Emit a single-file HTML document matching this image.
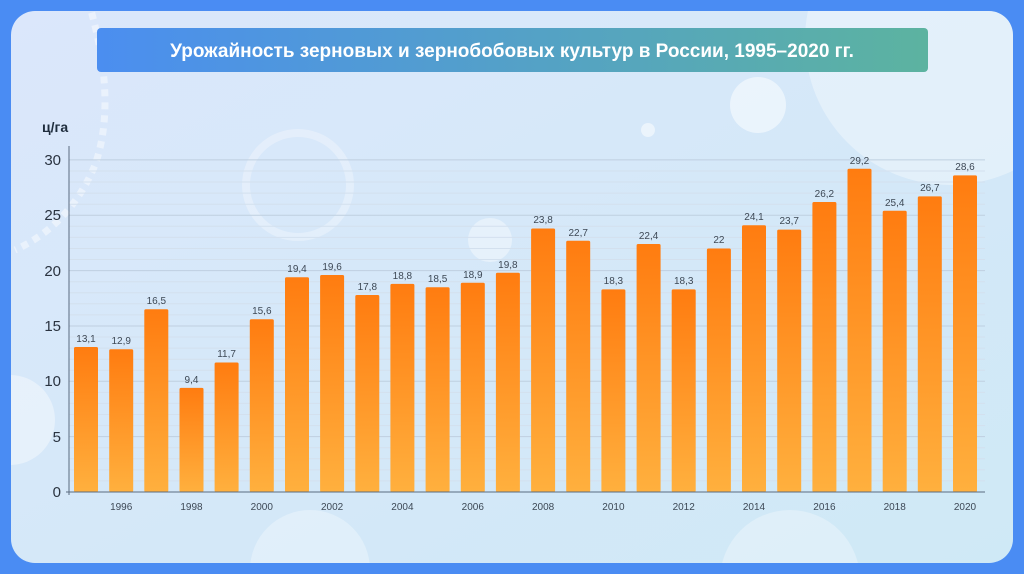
<!DOCTYPE html>
<html><head><meta charset="utf-8"><style>
html,body{margin:0;padding:0;width:1024px;height:574px;overflow:hidden;background:#4a8cf3;font-family:"Liberation Sans",sans-serif}
svg{display:block}
</style></head><body>
<svg width="1024" height="574" viewBox="0 0 1024 574" xmlns="http://www.w3.org/2000/svg" font-family="Liberation Sans, sans-serif">
<defs>
<linearGradient id="bg" x1="0" y1="0" x2="1" y2="1"><stop offset="0" stop-color="#dbe7fb"/><stop offset="1" stop-color="#cfe9f6"/></linearGradient>
<linearGradient id="tb" x1="0" y1="0" x2="1" y2="0"><stop offset="0" stop-color="#4b8ef0"/><stop offset="1" stop-color="#5cb3a0"/></linearGradient>
<linearGradient id="bar" x1="0" y1="0" x2="0" y2="1"><stop offset="0" stop-color="#ff7c10"/><stop offset="1" stop-color="#ffb03e"/></linearGradient>
<clipPath id="pc"><rect x="11" y="11" width="1002" height="552" rx="24"/></clipPath>
</defs>
<rect x="0" y="0" width="1024" height="574" fill="#4a8cf3"/>
<rect x="11" y="11" width="1002" height="552" rx="24" fill="url(#bg)"/>
<g clip-path="url(#pc)" fill="#ffffff">
<circle cx="950" cy="40" r="145" opacity="0.35"/>
<circle cx="758" cy="105" r="28" opacity="0.5"/>
<circle cx="648" cy="130" r="7" opacity="0.5"/>
<circle cx="490" cy="240" r="22" opacity="0.4"/>
<circle cx="298" cy="185" r="52" fill="none" stroke="#fff" stroke-width="8" opacity="0.3"/>
<circle cx="10" cy="420" r="45" opacity="0.4"/>
<circle cx="310" cy="570" r="60" opacity="0.3"/>
<circle cx="790" cy="580" r="70" opacity="0.3"/>
<path d="M88 0 Q118 100 95 165 Q70 225 15 250" fill="none" stroke="#fff" stroke-width="7" stroke-dasharray="7 6" opacity="0.45"/>
</g>
<rect x="97" y="28" width="831" height="44" rx="4" fill="url(#tb)"/>
<text x="512" y="57" text-anchor="middle" fill="#fff" font-size="19" font-weight="bold">Урожайность зерновых и зернобобовых культур в России, 1995–2020 гг.</text>
<text x="42" y="132" fill="#1f2d3d" font-size="14" font-weight="bold">ц/га</text>
<g stroke="#d3e0ee" stroke-width="1">
<line x1="69" x2="985" y1="480.9" y2="480.9"/><line x1="69" x2="985" y1="469.9" y2="469.9"/><line x1="69" x2="985" y1="458.8" y2="458.8"/><line x1="69" x2="985" y1="447.7" y2="447.7"/>
<line x1="69" x2="985" y1="425.6" y2="425.6"/><line x1="69" x2="985" y1="414.5" y2="414.5"/><line x1="69" x2="985" y1="403.4" y2="403.4"/><line x1="69" x2="985" y1="392.4" y2="392.4"/>
<line x1="69" x2="985" y1="370.2" y2="370.2"/><line x1="69" x2="985" y1="359.2" y2="359.2"/><line x1="69" x2="985" y1="348.1" y2="348.1"/><line x1="69" x2="985" y1="337.0" y2="337.0"/>
<line x1="69" x2="985" y1="314.9" y2="314.9"/><line x1="69" x2="985" y1="303.8" y2="303.8"/><line x1="69" x2="985" y1="292.7" y2="292.7"/><line x1="69" x2="985" y1="281.7" y2="281.7"/>
<line x1="69" x2="985" y1="259.5" y2="259.5"/><line x1="69" x2="985" y1="248.5" y2="248.5"/><line x1="69" x2="985" y1="237.4" y2="237.4"/><line x1="69" x2="985" y1="226.3" y2="226.3"/>
<line x1="69" x2="985" y1="204.2" y2="204.2"/><line x1="69" x2="985" y1="193.1" y2="193.1"/><line x1="69" x2="985" y1="182.0" y2="182.0"/><line x1="69" x2="985" y1="171.0" y2="171.0"/>
</g>
<g stroke="#bfcfe0" stroke-width="1">
<line x1="69" x2="985" y1="436.6" y2="436.6"/><line x1="69" x2="985" y1="381.3" y2="381.3"/><line x1="69" x2="985" y1="326.0" y2="326.0"/><line x1="69" x2="985" y1="270.6" y2="270.6"/><line x1="69" x2="985" y1="215.2" y2="215.2"/><line x1="69" x2="985" y1="159.9" y2="159.9"/>
</g>
<g fill="url(#bar)">
<rect x="74.0" y="347.0" width="24" height="145.0" rx="1.5"/>
<rect x="109.2" y="349.2" width="24" height="142.8" rx="1.5"/>
<rect x="144.3" y="309.3" width="24" height="182.7" rx="1.5"/>
<rect x="179.5" y="387.9" width="24" height="104.1" rx="1.5"/>
<rect x="214.6" y="362.5" width="24" height="129.5" rx="1.5"/>
<rect x="249.8" y="319.3" width="24" height="172.7" rx="1.5"/>
<rect x="285.0" y="277.2" width="24" height="214.8" rx="1.5"/>
<rect x="320.1" y="275.0" width="24" height="217.0" rx="1.5"/>
<rect x="355.3" y="295.0" width="24" height="197.0" rx="1.5"/>
<rect x="390.4" y="283.9" width="24" height="208.1" rx="1.5"/>
<rect x="425.6" y="287.2" width="24" height="204.8" rx="1.5"/>
<rect x="460.8" y="282.8" width="24" height="209.2" rx="1.5"/>
<rect x="495.9" y="272.8" width="24" height="219.2" rx="1.5"/>
<rect x="531.1" y="228.5" width="24" height="263.5" rx="1.5"/>
<rect x="566.2" y="240.7" width="24" height="251.3" rx="1.5"/>
<rect x="601.4" y="289.4" width="24" height="202.6" rx="1.5"/>
<rect x="636.6" y="244.0" width="24" height="248.0" rx="1.5"/>
<rect x="671.7" y="289.4" width="24" height="202.6" rx="1.5"/>
<rect x="706.9" y="248.5" width="24" height="243.5" rx="1.5"/>
<rect x="742.0" y="225.2" width="24" height="266.8" rx="1.5"/>
<rect x="777.2" y="229.6" width="24" height="262.4" rx="1.5"/>
<rect x="812.4" y="202.0" width="24" height="290.0" rx="1.5"/>
<rect x="847.5" y="168.8" width="24" height="323.2" rx="1.5"/>
<rect x="882.7" y="210.8" width="24" height="281.2" rx="1.5"/>
<rect x="917.8" y="196.4" width="24" height="295.6" rx="1.5"/>
<rect x="953.0" y="175.4" width="24" height="316.6" rx="1.5"/>
</g>
<line x1="69" y1="146" x2="69" y2="495" stroke="#5a6b80" stroke-width="1"/>
<line x1="66" y1="492" x2="985" y2="492" stroke="#5a6b80" stroke-width="1"/>
<g font-size="15" fill="#2a3340" text-anchor="end">
<text x="61" y="497">0</text><text x="61" y="442">5</text><text x="61" y="386">10</text><text x="61" y="331">15</text><text x="61" y="276">20</text><text x="61" y="220">25</text><text x="61" y="165">30</text>
</g>
<g font-size="10" fill="#3d4855" text-anchor="middle">
<text x="86.0" y="342">13,1</text>
<text x="121.2" y="344">12,9</text>
<text x="156.3" y="304">16,5</text>
<text x="191.5" y="383">9,4</text>
<text x="226.6" y="357">11,7</text>
<text x="261.8" y="314">15,6</text>
<text x="297.0" y="272">19,4</text>
<text x="332.1" y="270">19,6</text>
<text x="367.3" y="290">17,8</text>
<text x="402.4" y="279">18,8</text>
<text x="437.6" y="282">18,5</text>
<text x="472.8" y="278">18,9</text>
<text x="507.9" y="268">19,8</text>
<text x="543.1" y="223">23,8</text>
<text x="578.2" y="236">22,7</text>
<text x="613.4" y="284">18,3</text>
<text x="648.6" y="239">22,4</text>
<text x="683.7" y="284">18,3</text>
<text x="718.9" y="243">22</text>
<text x="754.0" y="220">24,1</text>
<text x="789.2" y="224">23,7</text>
<text x="824.4" y="197">26,2</text>
<text x="859.5" y="164">29,2</text>
<text x="894.7" y="206">25,4</text>
<text x="929.8" y="191">26,7</text>
<text x="965.0" y="170">28,6</text>
<text x="121.2" y="510">1996</text>
<text x="191.5" y="510">1998</text>
<text x="261.8" y="510">2000</text>
<text x="332.1" y="510">2002</text>
<text x="402.4" y="510">2004</text>
<text x="472.8" y="510">2006</text>
<text x="543.1" y="510">2008</text>
<text x="613.4" y="510">2010</text>
<text x="683.7" y="510">2012</text>
<text x="754.0" y="510">2014</text>
<text x="824.4" y="510">2016</text>
<text x="894.7" y="510">2018</text>
<text x="965.0" y="510">2020</text>
</g>
</svg>
</body></html>
